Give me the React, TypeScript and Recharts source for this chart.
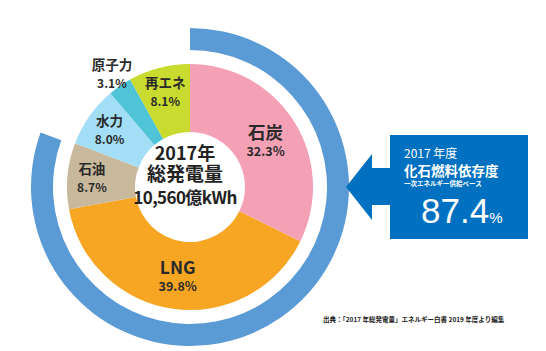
import { PieChart, Pie, Cell } from 'recharts';

// 2017年 総発電量の電源構成 (%)
const sources = ['石炭', 'LNG', '石油', '水力', '原子力', '再エネ'];
const shares = [32.3, 39.8, 8.7, 8.0, 3.1, 8.1];
const sliceColors = ['#f4a1b6', '#f6a623', '#c8b89c', '#a3def7', '#4ec4d6', '#c9db2e'];

// 化石燃料依存度 (一次エネルギー供給ベース)
const fossilShare = 87.4;

const totalYear = '2017年';
const totalValue = '10,560億kWh';

const sourceData = sources.map((name, i) => ({ name, value: shares[i] }));
const fossilData = [{ name: '化石燃料依存度', value: fossilShare }];

const RAD = Math.PI / 180;
const CX = 185;
const CY = 182;
const JP = '"Noto Sans CJK JP", "Noto Sans", sans-serif';

const renderLabel = (props: any) => {
  const { cx, cy, midAngle, innerRadius, outerRadius, index } = props;
  const share = shares[index];
  const outside = share < 5;
  const big = share > 20;
  const r = outside
    ? outerRadius + 14
    : innerRadius + (outerRadius - innerRadius) * (big ? 0.5 : 0.64);
  const x = cx + r * Math.cos(-midAngle * RAD);
  const y = cy + r * Math.sin(-midAngle * RAD);
  return (
    <g fontFamily={JP} fill="#2a2a2a" fontWeight={700} textAnchor="middle">
      <text x={x} y={big ? y - 1 : y - 4} fontSize={big ? 17.5 : 13.5}>
        {sources[index]}
      </text>
      <text x={x} y={big ? y + 16 : y + 14} fontSize={big ? 12.5 : 12}>
        {share.toFixed(1)}%
      </text>
    </g>
  );
};

export default function App() {
  return (
    <div style={{ position: 'absolute', left: 0, top: 0, width: 546, height: 351, background: '#fff' }}>
      <PieChart width={546} height={351}>
        <Pie
          data={fossilData}
          dataKey="value"
          cx={CX}
          cy={CY}
          innerRadius={137}
          outerRadius={159}
          startAngle={90}
          endAngle={-200}
          stroke="none"
          fill="#5b9bd5"
          isAnimationActive={false}
        />
        <Pie
          data={sourceData}
          dataKey="value"
          nameKey="name"
          cx={CX}
          cy={CY}
          innerRadius={55}
          outerRadius={123}
          startAngle={90}
          endAngle={-270}
          stroke="none"
          label={renderLabel}
          labelLine={false}
          isAnimationActive={false}
        >
          {sourceData.map((d, i) => (
            <Cell key={d.name} fill={sliceColors[i]} />
          ))}
        </Pie>
      </PieChart>
      <svg
        width={546}
        height={351}
        style={{ position: 'absolute', left: 0, top: 0, pointerEvents: 'none' }}
      >
        {/* center of the donut */}
        <g fontFamily={JP} fontWeight={700} fill="#222" textAnchor="middle">
          <text x={CX} y={160} fontSize={18}>{totalYear}</text>
          <text x={CX} y={181} fontSize={19}>総発電量</text>
          <text x={CX} y={204} fontSize={17} letterSpacing={-0.6}>{totalValue}</text>
        </g>

        {/* callout box */}
        <polygon
          points="346,187 372,154 372,168 390,168 390,135 528,135 528,239 390,239 390,205 372,205 372,220"
          fill="#0070c0"
        />
        <g fontFamily={JP} fill="#fff">
          <text x={404} y={158} fontSize={12}>2017 年度</text>
          <text x={404} y={176} fontSize={13.5} fontWeight={700}>化石燃料依存度</text>
          <text x={404} y={186} fontSize={6.5} fontWeight={700}>一次エネルギー供給ベース</text>
        </g>
        <text x={421} y={223} fill="#fff" fontFamily='"Liberation Sans", Arial, sans-serif' fontSize={35}>
          {fossilShare}
          <tspan fontSize={15}>%</tspan>
        </text>

        <text x={323} y={322} fontFamily={JP} fontWeight={700} fontSize={6.5} fill="#222">
          出典：「2017 年総発電量」エネルギー白書 2019 年度より編集
        </text>
      </svg>
    </div>
  );
}
